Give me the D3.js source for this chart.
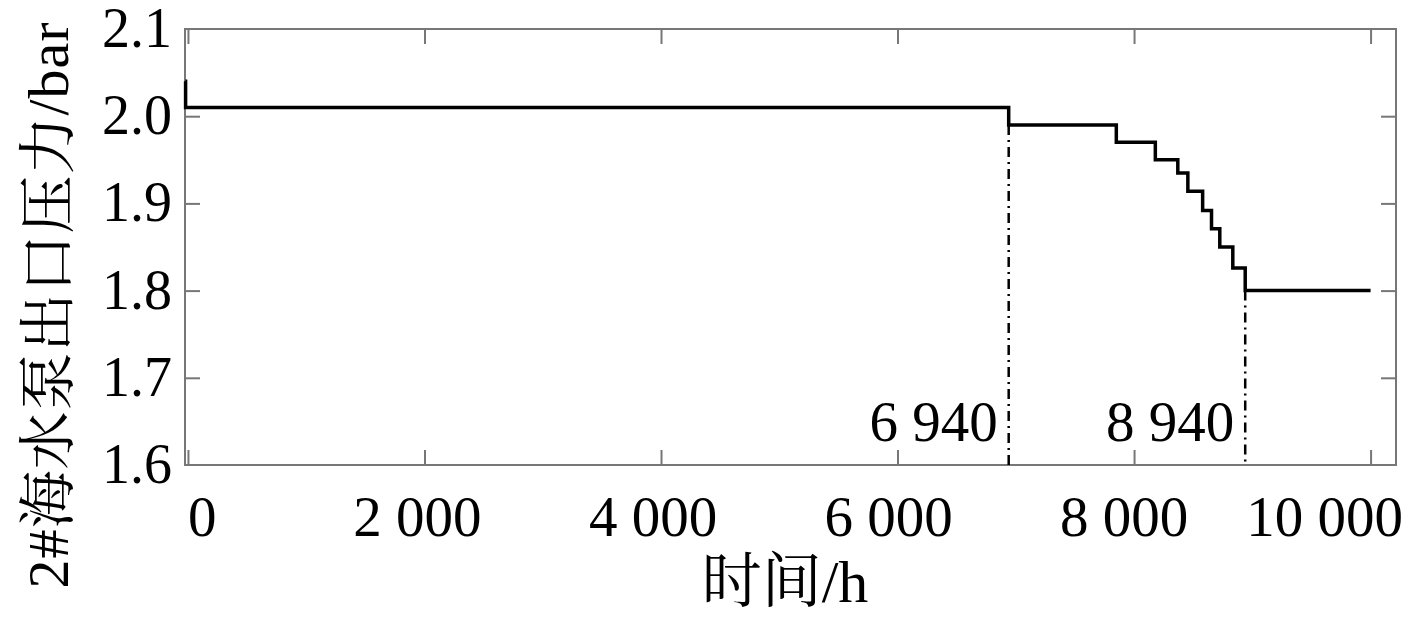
<!DOCTYPE html>
<html>
<head>
<meta charset="utf-8">
<script src="https://cdn.jsdelivr.net/npm/d3@7"></script>
<style>
  body { margin: 0; background: #fff; }
  svg { display: block; }
  text { font-family: "Liberation Serif", "Times New Roman", "Noto Serif CJK SC", "Noto Sans CJK SC", serif; fill: #000; }
  .axis path { display: none; }
  .axis line { stroke: #777; stroke-width: 2; }
</style>
</head>
<body>
<svg id="chart"></svg>
<script>
// step curve of pump outlet pressure (bar) against running time (h)
var times  = [-22, -20, 6940, 7850, 8180, 8370, 8455, 8580, 8655, 8725, 8835, 8940, 10000];
var values = [2.04, 2.01, 1.99, 1.97, 1.95, 1.935, 1.914, 1.892, 1.871, 1.85, 1.826, 1.80, 1.80];

var markTimes  = [6940, 8940];
var markLabels = ["6 940", "8 940"];

var xTicks = [0, 2000, 4000, 6000, 8000, 10000];
var xTickLabels = ["0", "2 000", "4 000", "6 000", "8 000", "10 000"];
var yTicks = [1.6, 1.7, 1.8, 1.9, 2.0, 2.1];
var yTickLabels = ["1.6", "1.7", "1.8", "1.9", "2.0", "2.1"];

var xTitle = "时间/h";
var yTitle = "2#海水泵出口压力/bar";

var W = 1417, H = 622;
var margin = { top: 29, right: 21, bottom: 157, left: 185 },
    width = W - margin.left - margin.right,
    height = H - margin.top - margin.bottom;

var svg = d3.select('#chart')
    .attr('width', W)
    .attr('height', H);

var g = svg.append('g')
    .attr('transform', 'translate(' + margin.left + ',' + margin.top + ')');

var x = d3.scaleLinear().domain([-25, 10215]).range([0, width]),
    y = d3.scaleLinear().domain([1.6, 2.1]).range([height, 0]);

// inward ticks on all four sides
g.append('g').attr('class', 'axis')
    .attr('transform', 'translate(0,' + height + ')')
    .call(d3.axisBottom(x).tickValues(xTicks).tickSizeInner(-15).tickSizeOuter(0).tickFormat(''));
g.append('g').attr('class', 'axis')
    .call(d3.axisTop(x).tickValues(xTicks).tickSizeInner(-15).tickSizeOuter(0).tickFormat(''));
g.append('g').attr('class', 'axis')
    .call(d3.axisLeft(y).tickValues(yTicks.slice(1, -1)).tickSizeInner(-15).tickSizeOuter(0).tickFormat(''));
g.append('g').attr('class', 'axis')
    .attr('transform', 'translate(' + width + ',0)')
    .call(d3.axisRight(y).tickValues(yTicks.slice(1, -1)).tickSizeInner(-15).tickSizeOuter(0).tickFormat(''));

g.append('rect')
    .attr('width', width)
    .attr('height', height)
    .attr('fill', 'none')
    .attr('stroke', '#777')
    .attr('stroke-width', 2);

// tick labels
g.selectAll('.xlab')
    .data(xTicks)
  .enter().append('text')
    .attr('class', 'xlab')
    .attr('x', function(d, i) {
      if (i == 0) return x(d);
      if (i == xTicks.length - 1) return width + 7;
      return x(d) - 6 - i;
    })
    .attr('y', height + 71)
    .attr('text-anchor', function(d, i) {
      if (i == 0) return 'start';
      if (i == xTicks.length - 1) return 'end';
      return 'middle';
    })
    .style('font-size', '57px')
    .text(function(d, i) { return xTickLabels[i]; });

g.selectAll('.ylab')
    .data(yTicks)
  .enter().append('text')
    .attr('class', 'ylab')
    .attr('x', -13)
    .attr('y', function(d) { return y(d); })
    .attr('dy', '0.32em')
    .attr('text-anchor', 'end')
    .style('font-size', '56px')
    .text(function(d, i) { return yTickLabels[i]; });

// vertical dash-dot markers
var pts = times.map(function(t, i) { return [t, values[i]]; });
g.selectAll('.mark')
    .data(markTimes)
  .enter().append('line')
    .attr('class', 'mark')
    .attr('x1', function(d) { return x(d); })
    .attr('x2', function(d) { return x(d); })
    .attr('y1', function(d) { return y(values[times.indexOf(d)]); })
    .attr('y2', height)
    .attr('stroke', '#000')
    .attr('stroke-width', 2.5)
    .attr('stroke-dasharray', '10,5,2,5');

g.selectAll('.marklab')
    .data(markTimes)
  .enter().append('text')
    .attr('class', 'marklab')
    .attr('x', function(d) { return x(d) - 11; })
    .attr('y', y(1.628))
    .attr('text-anchor', 'end')
    .style('font-size', '57px')
    .text(function(d, i) { return markLabels[i]; });

// pressure step line
var line = d3.line()
    .x(function(d) { return x(d[0]); })
    .y(function(d) { return y(d[1]); })
    .curve(d3.curveStepAfter);

g.append('path')
    .datum(pts)
    .attr('d', line)
    .attr('fill', 'none')
    .attr('stroke', '#000')
    .attr('stroke-width', 3.5);

// axis titles
svg.append('text')
    .attr('x', 785)
    .attr('y', 602)
    .attr('text-anchor', 'middle')
    .style('font-size', '60px')
    .text(xTitle);

svg.append('text')
    .attr('transform', 'translate(68,305) rotate(-90)')
    .attr('text-anchor', 'middle')
    .style('font-size', '58px')
    .attr('letter-spacing', '1px')
    .text(yTitle);
</script>
</body>
</html>
